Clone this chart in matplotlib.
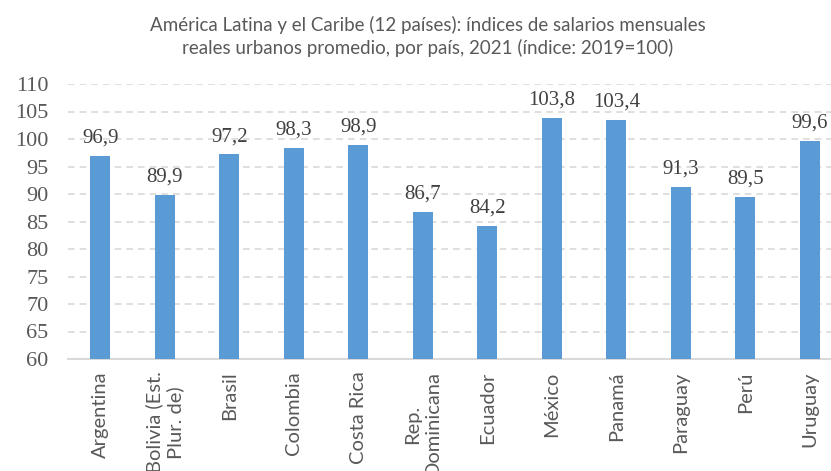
import matplotlib
matplotlib.use("Agg")
import matplotlib.pyplot as plt

paises = ["Argentina", "Bolivia (Est.\nPlur. de)", "Brasil", "Colombia", "Costa Rica",
          "Rep.\nDominicana", "Ecuador", "México", "Panamá", "Paraguay", "Perú", "Uruguay"]
indices = [96.9, 89.9, 97.2, 98.3, 98.9, 86.7, 84.2, 103.8, 103.4, 91.3, 89.5, 99.6]
yticks = [60, 65, 70, 75, 80, 85, 90, 95, 100, 105, 110]
titulo = ["América Latina y el Caribe (12 países): índices de salarios mensuales",
          "reales urbanos promedio, por país, 2021 (índice: 2019=100)"]

C_BAR = "#5B9BD5"
C_GRID = "#D9D9D9"
C_TXT = "#595959"
SANS = ["Lato", "DejaVu Sans"]
SERIF = ["Liberation Serif", "DejaVu Serif"]

fig = plt.figure(figsize=(8.31, 4.71), dpi=100)
ax = fig.add_axes([68 / 831, 1 - 359 / 471, (842 - 68) / 831, (359 - 84) / 471])

x = range(len(paises))
bars = ax.bar(x, indices, width=0.31, color=C_BAR, zorder=3)
for b, v in zip(bars, indices):
    ax.annotate(f"{v:.1f}".replace(".", ","), (b.get_x() + b.get_width() / 2, v),
                xytext=(0, 6), textcoords="offset points", ha="center", va="bottom",
                fontsize=15, family=SERIF, color="#404040")

ax.set_ylim(60, 110)
ax.set_xlim(-0.5, len(paises) - 0.5)
ax.set_yticks(yticks)
ax.set_yticklabels([str(t) for t in yticks], family=SERIF, fontsize=16, color=C_TXT)
ax.set_xticks(list(x))
ax.set_xticklabels(paises, rotation=90, family=SANS, fontsize=14.5, color=C_TXT,
                   va="top", ha="center", multialignment="center")
ax.tick_params(axis="x", length=0, pad=9)
ax.tick_params(axis="y", length=0, pad=14)
ax.yaxis.grid(True, color=C_GRID, ls=(0, (4, 3)), lw=1.2, zorder=0)
for s in ["top", "right", "left"]:
    ax.spines[s].set_visible(False)
ax.spines["bottom"].set_color(C_GRID)
ax.spines["bottom"].set_linewidth(1.5)

for linea, base in zip(titulo, [31, 54]):
    fig.text(428 / 831, 1 - base / 471, linea, ha="center", va="baseline",
             fontsize=13.5, family=SANS, color=C_TXT)

fig.savefig("out.png", dpi=100, facecolor="white")
